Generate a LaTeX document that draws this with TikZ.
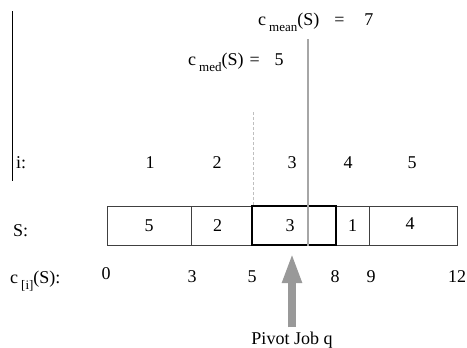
\documentclass[tikz,border=0pt]{standalone}
\usepackage{fontspec}
\setmainfont{Liberation Serif}
\usetikzlibrary{arrows.meta}

\tikzset{
  txt/.style={inner sep=0pt, anchor=base, font=\fontsize{18}{20}\selectfont},
  txtw/.style={txt, anchor=base west},
  cell/.style={draw=black!75, line width=0.8pt, minimum height=39pt, inner sep=0pt,
               font=\fontsize{18}{20}\selectfont},
  pivotcell/.style={cell, draw=black, line width=2.2pt},
  meanline/.style={draw=black!35, line width=1.4pt},
  medline/.style={draw=black!25, line width=0.9pt, dash pattern=on 3pt off 2pt},
  pivotarrow/.style={draw=black!40, line width=8pt,
                     -{Triangle[width=18pt,length=30pt]}},
  edge/.style={draw=black, line width=0.9pt}
}
\newcommand{\sub}[1]{\raisebox{-6pt}{\fontsize{13}{14}\selectfont #1}}

\begin{document}
\begin{tikzpicture}[x=1pt,y=-1pt]
  \useasboundingbox (0,0) rectangle (467,348);

  % left margin rule
  \coordinate (ruleTop) at (12,11);
  \coordinate (ruleBot) at (12,181);
  \draw[edge] (ruleTop) -- (ruleBot);

  % labels of the mean and the median
  \node[txtw] (cmean) at (258,25) {c\,\sub{mean}(S)\hspace{15pt}=\hspace{20pt}7};
  \node[txtw] (cmed)  at (188,65) {c\,\sub{med}(S)\hspace{6pt}=\hspace{15pt}5};

  % row of positions
  \node[txtw] (ilab) at (16,168) {i:};
  \node[txt] (i1) at (150,168) {1};
  \node[txt] (i2) at (217,168) {2};
  \node[txt] (i3) at (292,168) {3};
  \node[txt] (i4) at (348,168) {4};
  \node[txt] (i5) at (412,168) {5};

  % the sequence S
  \node[txtw] (slab) at (13,236) {S:};
  \node[cell, minimum width=84pt] (c1) at (149,225.5) {5};
  \node[cell, minimum width=61pt] (c2) at (221.5,225.5) {\hspace{-8pt}2};
  \node[cell, minimum width=33pt] (c4) at (352.5,225.5) {\raisebox{-3pt}{1}};
  \node[cell, minimum width=88pt] (c5) at (413,225.5) {\hspace{-6pt}\raisebox{4pt}{4}};

  % mean and median markers
  \coordinate (meanTop) at (308,39);
  \coordinate (meanBot) at (308,245);
  \draw[meanline] (meanTop) -- (meanBot);
  \coordinate (medTop) at (253,112);
  \coordinate (medBot) at (253,206);
  \draw[medline] (medTop) -- (medBot);

  \node[pivotcell, minimum width=84pt] (c3) at (294,225.5) {\hspace{-8pt}3};
  \draw[meanline] (c3.north -| meanTop) -- (c3.south -| meanTop);

  % completion times
  \node[txtw] (clab) at (10,283) {c\,\sub{[i]}(S):};
  \node[txt] (t0) at (106,279) {0};
  \node[txt] (t3) at (192,282) {3};
  \node[txt] (t5) at (252,282) {5};
  \node[txt] (t8) at (335,282) {8};
  \node[txt] (t9) at (371,282) {9};
  \node[txt] (t12) at (457,282) {12};

  % pivot job
  \node[txt] (pivot) at (292,344) {Pivot Job q};
  \coordinate (tip) at (292,253);
  \draw[pivotarrow] ([yshift=4pt]pivot.north) -- (tip);
\end{tikzpicture}
\end{document}
